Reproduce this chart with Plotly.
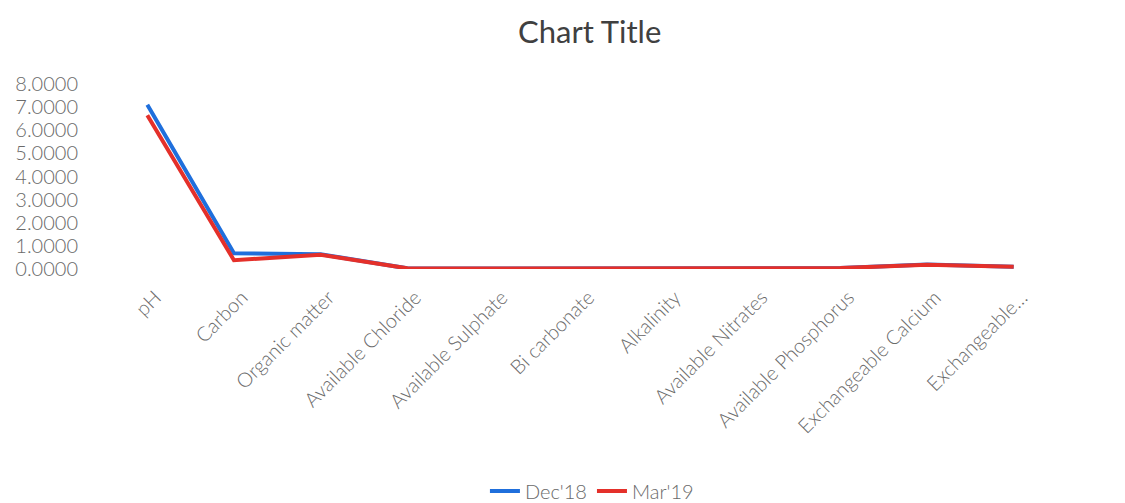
import plotly.graph_objects as go

categories = ["pH", "Carbon", "Organic matter", "Available Chloride", "Available Sulphate",
              "Bi carbonate", "Alkalinity", "Available Nitrates", "Available Phosphorus",
              "Exchangeable Calcium", "Exchangeable…"]
dec18 = [7.10, 0.68, 0.64, 0.03, 0.02, 0.02, 0.03, 0.03, 0.04, 0.20, 0.10]
mar19 = [6.65, 0.38, 0.62, 0.03, 0.02, 0.02, 0.03, 0.03, 0.04, 0.18, 0.10]
y_ticks = [0, 1, 2, 3, 4, 5, 6, 7, 8]

FONT = "Lato"
TXT = "#6a6a6a"
fig = go.Figure()
fig.add_trace(go.Scatter(x=categories, y=dec18, mode="lines", name="Dec'18",
                         line=dict(color="#1f6fdc", width=4)))
fig.add_trace(go.Scatter(x=categories, y=mar19, mode="lines", name="Mar'19",
                         line=dict(color="#e4302a", width=4)))

fig.update_layout(
    width=1125, height=503,
    paper_bgcolor="white", plot_bgcolor="white",
    margin=dict(l=96, r=76, t=76, b=242, autoexpand=False),
    title=dict(text="Chart Title", x=0.517, xanchor="center", y=0.952, yanchor="middle",
               font=dict(family=FONT, size=31, color="#404040")),
    font=dict(family=FONT, color=TXT),
    showlegend=True,
    legend=dict(orientation="h", x=0.512, xanchor="center", y=-1.2, yanchor="middle",
                font=dict(size=20, color=TXT, weight=300)),
    xaxis=dict(type="category", range=[-0.5, 10.5], tickangle=-45, showgrid=False,
               showline=False, zeroline=False,
               tickfont=dict(size=20, color=TXT, weight=300),
               ticklabelshift=8, ticklabelstandoff=12),
    yaxis=dict(range=[0, 8], tickvals=y_ticks, tickformat=".4f", showgrid=False,
               zeroline=False, showline=False,
               tickfont=dict(size=20, color=TXT, weight=300),
               ticklabelstandoff=25),
)
fig.write_html("out.html")
